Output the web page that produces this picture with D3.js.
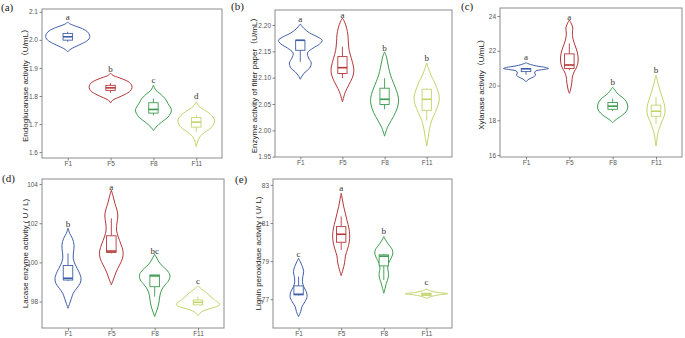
<!DOCTYPE html>
<html>
<head>
<meta charset="utf-8">
<script src="https://cdn.jsdelivr.net/npm/d3@7/dist/d3.min.js"></script>
<style>
  html, body { margin: 0; padding: 0; background: #fff; }
  svg { display: block; }
</style>
</head>
<body>
<div id="chart"></div>
<script>
// treatment groups and their colours
const groups = ["F1", "F5", "F8", "F11"]
const groupColors = ["#3f5ea8", "#b5373a", "#3d9c4f", "#c3d46a"]

// violin outlines: [value, half width in group steps]
// boxes: [min, q1, median, q3, max]

// (a) endoglucanase
const endoProfiles = [
  [[2.064, 0], [2.058, 0.04], [2.052, 0.13], [2.040, 0.34], [2.029, 0.46], [2.017, 0.51], [2.008, 0.51], [1.999, 0.47], [1.987, 0.34], [1.975, 0.17], [1.965, 0.05], [1.957, 0]],
  [[1.882, 0], [1.874, 0.05], [1.865, 0.2], [1.854, 0.38], [1.842, 0.48], [1.830, 0.5], [1.818, 0.46], [1.806, 0.34], [1.794, 0.17], [1.785, 0.05], [1.775, 0]],
  [[1.838, 0], [1.820, 0.06], [1.809, 0.15], [1.791, 0.27], [1.773, 0.34], [1.749, 0.42], [1.725, 0.34], [1.707, 0.19], [1.689, 0.06], [1.677, 0]],
  [[1.779, 0], [1.761, 0.08], [1.743, 0.26], [1.725, 0.39], [1.711, 0.43], [1.689, 0.36], [1.671, 0.2], [1.654, 0.08], [1.636, 0.03], [1.620, 0]]
]
const endoBoxes = [[1.993, 1.999, 2.011, 2.023, 2.029], [1.811, 1.820, 1.829, 1.838, 1.846], [1.731, 1.739, 1.752, 1.776, 1.791], [1.671, 1.689, 1.707, 1.723, 1.731]]
const endoLetters = ["a", "b", "c", "d"]
const endoLetterAt = [2.082, 1.895, 1.856, 1.799]
const endoTicks = [1.6, 1.7, 1.8, 1.9, 2.0, 2.1]

// (b) filter paper
const fpProfiles = [
  [[2.202, 0], [2.194, 0.08], [2.185, 0.22], [2.177, 0.42], [2.171, 0.52], [2.164, 0.46], [2.156, 0.3], [2.147, 0.17], [2.137, 0.2], [2.128, 0.26], [2.118, 0.22], [2.111, 0.12], [2.103, 0.04], [2.097, 0]],
  [[2.213, 0], [2.206, 0.05], [2.194, 0.1], [2.181, 0.13], [2.168, 0.14], [2.152, 0.16], [2.137, 0.21], [2.122, 0.26], [2.111, 0.27], [2.099, 0.23], [2.086, 0.15], [2.073, 0.07], [2.063, 0.03], [2.054, 0]],
  [[2.149, 0], [2.141, 0.04], [2.130, 0.07], [2.118, 0.1], [2.105, 0.14], [2.092, 0.2], [2.076, 0.28], [2.061, 0.33], [2.048, 0.32], [2.034, 0.26], [2.019, 0.16], [2.006, 0.07], [1.997, 0.03], [1.989, 0]],
  [[2.128, 0], [2.118, 0.04], [2.105, 0.1], [2.092, 0.18], [2.076, 0.26], [2.063, 0.3], [2.050, 0.28], [2.034, 0.2], [2.019, 0.12], [2.004, 0.07], [1.989, 0.04], [1.980, 0.02], [1.970, 0]]
]
const fpBoxes = [[2.130, 2.152, 2.171, 2.171, 2.171], [2.099, 2.108, 2.119, 2.140, 2.159], [2.040, 2.049, 2.059, 2.080, 2.099], [2.019, 2.038, 2.059, 2.078, 2.080]]
const fpLetters = ["a", "a", "b", "b"]
const fpLetterAt = [2.211, 2.219, 2.157, 2.138]
const fpTicks = [1.95, 2.00, 2.05, 2.10, 2.15, 2.20]

// (c) xylanase
const xylProfiles = [
  [[21.31, 0], [21.21, 0.1], [21.12, 0.25], [21.04, 0.45], [20.98, 0.52], [20.92, 0.4], [20.83, 0.22], [20.72, 0.2], [20.60, 0.22], [20.49, 0.17], [20.37, 0.07], [20.22, 0]],
  [[23.77, 0], [23.54, 0.05], [23.31, 0.08], [23.02, 0.07], [22.73, 0.08], [22.39, 0.12], [22.04, 0.17], [21.70, 0.2], [21.35, 0.2], [21.06, 0.17], [20.78, 0.11], [20.49, 0.07], [20.20, 0.06], [19.91, 0.04], [19.68, 0.02], [19.55, 0]],
  [[19.90, 0], [19.74, 0.05], [19.57, 0.1], [19.40, 0.18], [19.22, 0.27], [18.99, 0.33], [18.76, 0.35], [18.53, 0.32], [18.30, 0.23], [18.13, 0.13], [17.96, 0.04], [17.86, 0]],
  [[20.60, 0], [20.19, 0.04], [19.74, 0.09], [19.34, 0.14], [18.94, 0.19], [18.59, 0.21], [18.24, 0.19], [17.90, 0.13], [17.55, 0.08], [17.21, 0.04], [16.86, 0.02], [16.52, 0]]
]
const xylBoxes = [[20.62, 20.80, 20.96, 20.98, 20.98], [20.88, 20.98, 21.18, 21.82, 22.42], [18.52, 18.63, 18.81, 19.02, 19.25], [17.80, 18.23, 18.52, 18.87, 19.35]]
const xylLetters = ["a", "a", "b", "b"]
const xylLetterAt = [21.65, 23.96, 20.21, 20.92]
const xylTicks = [16, 18, 20, 22, 24]

// (d) laccase
const lacProfiles = [
  [[101.74, 0], [101.48, 0.04], [101.23, 0.1], [100.89, 0.14], [100.55, 0.13], [100.21, 0.12], [99.87, 0.17], [99.53, 0.25], [99.19, 0.3], [98.93, 0.28], [98.68, 0.2], [98.42, 0.12], [98.17, 0.08], [97.91, 0.04], [97.66, 0]],
  [[103.69, 0], [103.39, 0.04], [103.03, 0.08], [102.68, 0.13], [102.37, 0.15], [102.01, 0.13], [101.65, 0.12], [101.30, 0.16], [100.94, 0.22], [100.58, 0.27], [100.22, 0.26], [99.87, 0.19], [99.51, 0.11], [99.20, 0.06], [98.85, 0]],
  [[100.41, 0], [100.22, 0.05], [100.02, 0.1], [99.81, 0.18], [99.61, 0.28], [99.36, 0.35], [99.10, 0.33], [98.85, 0.24], [98.59, 0.16], [98.29, 0.12], [97.98, 0.1], [97.67, 0.07], [97.42, 0.03], [97.23, 0]],
  [[98.80, 0], [98.65, 0.08], [98.44, 0.2], [98.24, 0.3], [98.09, 0.38], [97.93, 0.48], [97.83, 0.5], [97.72, 0.4], [97.62, 0.25], [97.52, 0.12], [97.42, 0.05], [97.28, 0]]
]
const lacBoxes = [[99.05, 99.10, 99.19, 99.84, 100.46], [100.46, 100.51, 100.58, 101.36, 102.25], [98.25, 98.76, 99.31, 99.36, 99.36], [97.83, 97.83, 97.96, 98.08, 98.25]]
const lacLetters = ["b", "a", "bc", "c"]
const lacLetterAt = [101.94, 103.86, 100.58, 99.05]
const lacTicks = [98, 100, 102, 104]

// (e) lignin peroxidase
const lipProfiles = [
  [[79.15, 0], [78.97, 0.04], [78.71, 0.09], [78.45, 0.12], [78.19, 0.1], [77.92, 0.09], [77.66, 0.12], [77.40, 0.18], [77.14, 0.2], [76.87, 0.15], [76.61, 0.08], [76.35, 0.05], [76.09, 0]],
  [[82.56, 0], [82.21, 0.03], [81.85, 0.06], [81.48, 0.1], [81.11, 0.14], [80.74, 0.18], [80.38, 0.2], [80.01, 0.19], [79.64, 0.15], [79.27, 0.1], [78.91, 0.08], [78.54, 0.04], [78.24, 0]],
  [[80.29, 0], [80.11, 0.04], [79.94, 0.09], [79.76, 0.15], [79.59, 0.2], [79.38, 0.21], [79.15, 0.17], [78.89, 0.11], [78.63, 0.09], [78.36, 0.11], [78.10, 0.1], [77.84, 0.06], [77.58, 0.03], [77.31, 0]],
  [[77.53, 0], [77.44, 0.1], [77.36, 0.25], [77.29, 0.5], [77.23, 0.3], [77.15, 0.12], [77.05, 0]]
]
const lipBoxes = [[77.20, 77.23, 77.26, 77.70, 78.19], [79.59, 79.99, 80.41, 80.81, 81.34], [78.01, 78.75, 79.26, 79.33, 79.38], [77.20, 77.20, 77.27, 77.32, 77.32]]
const lipLetters = ["c", "a", "b", "c"]
const lipLetterAt = [79.38, 82.83, 80.59, 77.89]
const lipTicks = [77, 79, 81, 83]

const width = 685
const height = 338

const panels = [
  { tag: "(a)", tagX: 1, tagY: 11, l: 42, t: 9, r: 222, b: 158, domain: [1.579, 2.11], fmt: ".1f", ticks: endoTicks,
    title: "Endoglucanase activity（U/mL）", titleX: 25,
    profiles: endoProfiles, boxes: endoBoxes, letters: endoLetters, letterAt: endoLetterAt },
  { tag: "(b)", tagX: 231, tagY: 10, l: 275, t: 10, r: 452, b: 157, domain: [1.9494, 2.2285], fmt: ".2f", ticks: fpTicks,
    title: "Enzyme activity of filter paper（U/mL）", titleX: 254,
    profiles: fpProfiles, boxes: fpBoxes, letters: fpLetters, letterAt: fpLetterAt },
  { tag: "(c)", tagX: 461, tagY: 10, l: 500, t: 8, r: 682, b: 157, domain: [15.885, 24.46], fmt: "d", ticks: xylTicks,
    title: "Xylanase activity（U/mL）", titleX: 481,
    profiles: xylProfiles, boxes: xylBoxes, letters: xylLetters, letterAt: xylLetterAt },
  { tag: "(d)", tagX: 2, tagY: 182, l: 42, t: 179, r: 224, b: 328, domain: [96.65, 104.26], fmt: "d", ticks: lacTicks,
    title: "Lacase enzyme activity ( U / L)", titleX: 25,
    profiles: lacProfiles, boxes: lacBoxes, letters: lacLetters, letterAt: lacLetterAt },
  { tag: "(e)", tagX: 235, tagY: 183, l: 273, t: 179, r: 452, b: 328, domain: [75.49, 83.31], fmt: "d", ticks: lipTicks,
    title: "Lignin peroxidase activity ( U/ L)", titleX: 258,
    profiles: lipProfiles, boxes: lipBoxes, letters: lipLetters, letterAt: lipLetterAt }
]

const svg = d3.select("#chart").append("svg")
  .attr("width", width)
  .attr("height", height)
  .attr("viewBox", `0 0 ${width} ${height}`)

const sans = "'Liberation Sans', Arial, 'Noto Sans CJK SC', sans-serif"
const serif = "'Liberation Serif', 'Times New Roman', serif"

function drawPanel(p) {
  const x = d3.scalePoint().domain(groups).range([p.l, p.r]).padding(0.6)
  const y = d3.scaleLinear().domain(p.domain).range([p.b, p.t])
  const step = x.step()
  const g = svg.append("g")

  // Panel border
  g.append("rect")
    .attr("x", p.l).attr("y", p.t)
    .attr("width", p.r - p.l).attr("height", p.b - p.t)
    .attr("fill", "none")
    .attr("stroke", "#8c8c8c")
    .attr("stroke-width", 1)

  // Axes
  const yAxis = g.append("g")
    .attr("transform", `translate(${p.l},0)`)
    .call(d3.axisLeft(y).tickValues(p.ticks).tickFormat(d3.format(p.fmt)).tickSize(2.5).tickPadding(1.5))
  const xAxis = g.append("g")
    .attr("transform", `translate(0,${p.b})`)
    .call(d3.axisBottom(x).tickSize(2.5).tickPadding(0.5))
  for (const ax of [yAxis, xAxis]) {
    ax.select(".domain").remove()
    ax.selectAll(".tick line").attr("stroke", "#666").attr("stroke-width", 0.8)
    ax.selectAll(".tick text")
      .attr("font-size", 6.5)
      .attr("font-family", sans)
      .attr("fill", "#555")
  }

  // Axis title
  g.append("text")
    .attr("transform", `translate(${p.titleX},${(p.t + p.b) / 2}) rotate(-90)`)
    .attr("text-anchor", "middle")
    .attr("dominant-baseline", "central")
    .attr("font-size", 8)
    .attr("font-family", sans)
    .attr("fill", "#222")
    .text(p.title)

  // Panel tag
  g.append("text")
    .attr("x", p.tagX).attr("y", p.tagY)
    .attr("font-size", 11)
    .attr("font-family", serif)
    .attr("fill", "#222")
    .text(p.tag)

  const area = d3.area()
    .curve(d3.curveCatmullRom.alpha(0.5))
    .y(d => y(d[0]))

  groups.forEach((grp, i) => {
    const cx = x(grp)
    const col = groupColors[i]

    // Violin outline
    g.append("path")
      .datum(p.profiles[i])
      .attr("d", area.x0(d => cx - d[1] * step).x1(d => cx + d[1] * step))
      .attr("fill", "none")
      .attr("stroke", col)
      .attr("stroke-width", 1)

    // Box plot
    const [mn, q1, md, q3, mx] = p.boxes[i]
    const bw = step * 0.22
    g.append("line")
      .attr("x1", cx).attr("x2", cx)
      .attr("y1", y(mx)).attr("y2", y(q3))
      .attr("stroke", col).attr("stroke-width", 0.9)
    g.append("line")
      .attr("x1", cx).attr("x2", cx)
      .attr("y1", y(q1)).attr("y2", y(mn))
      .attr("stroke", col).attr("stroke-width", 0.9)
    g.append("rect")
      .attr("x", cx - bw / 2).attr("y", y(q3))
      .attr("width", bw).attr("height", Math.max(0.5, y(q1) - y(q3)))
      .attr("fill", "white")
      .attr("stroke", col)
      .attr("stroke-width", 0.9)
    g.append("line")
      .attr("x1", cx - bw / 2).attr("x2", cx + bw / 2)
      .attr("y1", y(md)).attr("y2", y(md))
      .attr("stroke", col).attr("stroke-width", 1.6)

    // Significance letter
    g.append("text")
      .attr("x", cx).attr("y", y(p.letterAt[i]))
      .attr("text-anchor", "middle")
      .attr("dominant-baseline", "central")
      .attr("font-size", 9)
      .attr("font-family", serif)
      .attr("fill", "#333")
      .text(p.letters[i])
  })
}

panels.forEach(drawPanel)
</script>
</body>
</html>
